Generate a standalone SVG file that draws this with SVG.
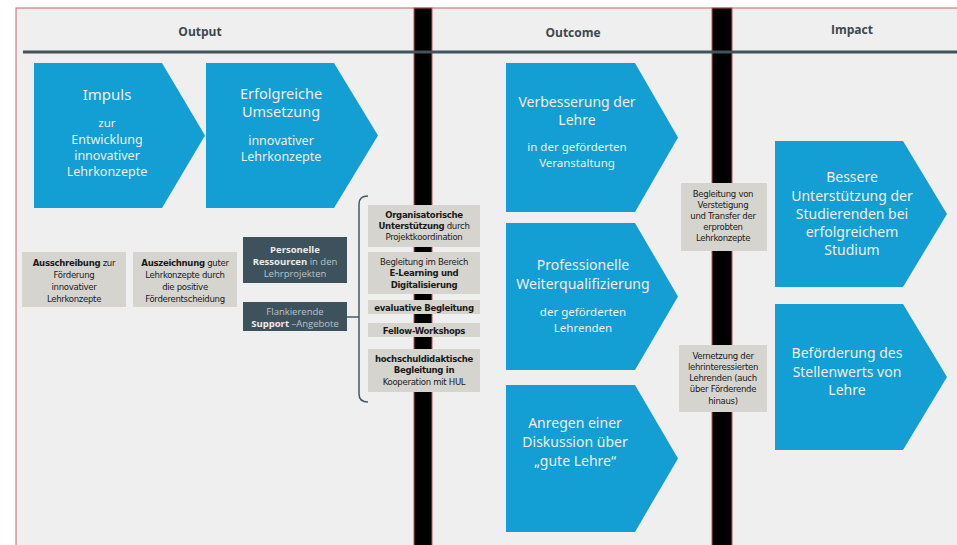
<svg xmlns="http://www.w3.org/2000/svg" width="957" height="545" viewBox="0 0 957 545">
<style>
.hdr{font-family:"Open Sans","Liberation Sans",sans-serif;font-weight:bold;font-size:12px;fill:#3b4850;text-anchor:middle}
.chev{fill:#139fd4}
.ct{font-family:"Noto Sans","Open Sans","Liberation Sans",sans-serif;fill:#eeeeee;text-anchor:middle}
.big{font-size:14px}
.sm{font-size:11.5px}
.gb{fill:#d6d4ce}
.gt{font-family:"Liberation Sans Narrow","DejaVu Sans Condensed","Liberation Sans",sans-serif;font-size:9.5px;letter-spacing:-0.3px;fill:#1a1a1a;text-anchor:middle}
.b{font-weight:bold}
.db{fill:#3e525d}
.dt{font-family:"Open Sans","Liberation Sans",sans-serif;font-size:9.5px;fill:#b9c2c7;text-anchor:middle}
.w{fill:#ececec;font-weight:bold}
.bar{fill:#000;stroke:#c4505c;stroke-width:1}
.conn{fill:none;stroke:#4a5a63;stroke-width:1.5}
</style>
<rect x="0" y="0" width="957" height="545" fill="#ffffff"/>
<rect x="16" y="8" width="945" height="540" fill="#efefef" stroke="#cf5e68" stroke-width="1"/>
<rect class="bar" x="414" y="8" width="18" height="540"/>
<rect class="bar" x="712" y="8" width="20" height="540"/>
<line x1="23" y1="52" x2="957" y2="52" stroke="#43535c" stroke-width="3"/>
<text class="hdr" x="200" y="36">Output</text>
<text class="hdr" x="573" y="37">Outcome</text>
<text class="hdr" x="852" y="34">Impact</text>

<g id="impuls">
<polygon class="chev" points="34,63 162,63 205,135.5 162,208 34,208"/>
<text class="ct" x="107" y="100" style="font-size:15px">Impuls</text>
<text class="ct sm" x="107" y="127">zur</text>
<text class="ct" x="107" y="144" style="font-size:12.5px">Entwicklung</text>
<text class="ct" x="107" y="160" style="font-size:12.5px">innovativer</text>
<text class="ct" x="107" y="176" style="font-size:12.5px">Lehrkonzepte</text>
</g>
<g id="umsetzung">
<polygon class="chev" points="206,63 334,63 378,135.5 334,208 206,208"/>
<text class="ct" x="281" y="99" style="font-size:14.5px">Erfolgreiche</text>
<text class="ct" x="281" y="117" style="font-size:14.5px">Umsetzung</text>
<text class="ct" x="281" y="145" style="font-size:12.5px">innovativer</text>
<text class="ct" x="281" y="161" style="font-size:12.5px">Lehrkonzepte</text>
</g>

<g id="ausschreibung">
<rect class="gb" x="22" y="252" width="104" height="55"/>
<text class="gt" x="74" y="266"><tspan class="b">Ausschreibung</tspan> zur</text>
<text class="gt" x="74" y="278">Förderung</text>
<text class="gt" x="74" y="290">innovativer</text>
<text class="gt" x="74" y="302">Lehrkonzepte</text>
</g>
<g id="auszeichnung">
<rect class="gb" x="133" y="252" width="104" height="55"/>
<text class="gt" x="185" y="266"><tspan class="b">Auszeichnung</tspan> guter</text>
<text class="gt" x="185" y="278">Lehrkonzepte durch</text>
<text class="gt" x="185" y="290">die positive</text>
<text class="gt" x="185" y="302">Förderentscheidung</text>
</g>
<g id="personelle">
<rect class="db" x="243" y="237" width="104" height="46"/>
<text class="dt" x="295" y="253"><tspan class="w">Personelle</tspan></text>
<text class="dt" x="295" y="265"><tspan class="w">Ressourcen</tspan> in den</text>
<text class="dt" x="295" y="277">Lehrprojekten</text>
</g>
<g id="flankierende">
<rect class="db" x="243" y="302" width="104" height="29"/>
<text class="dt" x="295" y="315">Flankierende</text>
<text class="dt" x="295" y="327"><tspan class="w">Support</tspan> –Angebote</text>
</g>

<g id="connectors">
<path class="conn" d="M368,196 Q359,196 359,204 V394 Q359,402 368,402"/>
<line class="conn" x1="347" y1="317" x2="359" y2="317"/>
</g>

<g id="organisatorische">
<rect class="gb" x="368" y="205" width="112" height="42"/>
<text class="gt" x="424" y="218"><tspan class="b">Organisatorische</tspan></text>
<text class="gt" x="424" y="229"><tspan class="b">Unterstützung</tspan> durch</text>
<text class="gt" x="424" y="240">Projektkoordination</text>
</g>
<g id="elearning">
<rect class="gb" x="368" y="252" width="112" height="42"/>
<text class="gt" x="424" y="265">Begleitung im Bereich</text>
<text class="gt b" x="424" y="276">E-Learning und</text>
<text class="gt b" x="424" y="288">Digitalisierung</text>
</g>
<g id="evaluative">
<rect class="gb" x="368" y="300" width="112" height="14"/>
<text class="gt b" x="424" y="310.5">evaluative Begleitung</text>
</g>
<g id="fellow">
<rect class="gb" x="368" y="323" width="112" height="14"/>
<text class="gt b" x="424" y="333.5">Fellow-Workshops</text>
</g>
<g id="hochschuldidaktik">
<rect class="gb" x="368" y="349" width="112" height="43"/>
<text class="gt b" x="424" y="362">hochschuldidaktische</text>
<text class="gt b" x="424" y="373">Begleitung in</text>
<text class="gt" x="424" y="385">Kooperation mit HUL</text>
</g>

<g id="verbesserung">
<polygon class="chev" points="506,63 635,63 678,137.5 635,212 506,212"/>
<text class="ct big" x="577" y="107">Verbesserung der</text>
<text class="ct big" x="577" y="125">Lehre</text>
<text class="ct sm" x="577" y="151">in der geförderten</text>
<text class="ct sm" x="577" y="167">Veranstaltung</text>
</g>
<g id="weiterqualifizierung">
<polygon class="chev" points="506,223 635,223 678,296.5 635,370 506,370"/>
<text class="ct big" x="583" y="270">Professionelle</text>
<text class="ct big" x="583" y="289">Weiterqualifizierung</text>
<text class="ct sm" x="583" y="316">der geförderten</text>
<text class="ct sm" x="583" y="332">Lehrenden</text>
</g>
<g id="diskussion">
<polygon class="chev" points="506,385 635,385 678,458.5 635,532 506,532"/>
<text class="ct big" x="575" y="428">Anregen einer</text>
<text class="ct big" x="575" y="447">Diskussion über</text>
<text class="ct big" x="575" y="466">„gute Lehre“</text>
</g>

<g id="verstetigung">
<rect class="gb" x="681" y="183" width="86" height="68"/>
<text class="gt" x="723" y="197">Begleitung von</text>
<text class="gt" x="723" y="208">Verstetigung</text>
<text class="gt" x="723" y="219">und Transfer der</text>
<text class="gt" x="723" y="230">erprobten</text>
<text class="gt" x="723" y="241">Lehrkonzepte</text>
</g>
<g id="vernetzung">
<rect class="gb" x="679" y="345" width="88" height="67"/>
<text class="gt" x="723" y="359">Vernetzung der</text>
<text class="gt" x="723" y="370">lehrinteressierten</text>
<text class="gt" x="723" y="381">Lehrenden (auch</text>
<text class="gt" x="723" y="392">über Förderende</text>
<text class="gt" x="723" y="404">hinaus)</text>
</g>

<g id="unterstuetzung">
<polygon class="chev" points="775,141 903,141 947,214 903,287 775,287"/>
<text class="ct big" x="852" y="182">Bessere</text>
<text class="ct big" x="852" y="201">Unterstützung der</text>
<text class="ct big" x="852" y="219">Studierenden bei</text>
<text class="ct big" x="852" y="237">erfolgreichem</text>
<text class="ct big" x="852" y="255">Studium</text>
</g>
<g id="stellenwert">
<polygon class="chev" points="775,304 903,304 947,377 903,450 775,450"/>
<text class="ct big" x="847" y="358">Beförderung des</text>
<text class="ct big" x="847" y="377">Stellenwerts von</text>
<text class="ct big" x="847" y="395">Lehre</text>
</g>
</svg>
